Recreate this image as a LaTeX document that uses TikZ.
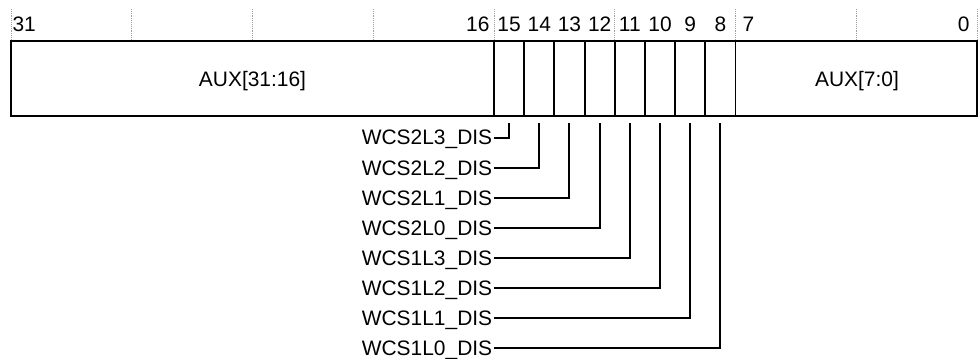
\documentclass[tikz,border=0pt]{standalone}
\usepackage{fontspec}
\setmainfont{Liberation Sans}

\tikzset{every picture/.style={line width=0.75pt}}
\tikzset{
  bitnum/.style={anchor=base,inner sep=0pt,font=\fontsize{15.7}{18}\selectfont},
  fieldtxt/.style={inner sep=0pt,text height=11.2pt,text depth=0pt,font=\fontsize{15.7}{18}\selectfont},
  sigtxt/.style={anchor=east,inner xsep=1pt,inner ysep=0pt,text height=11.2pt,text depth=0pt,font=\fontsize{15.7}{18}\selectfont},
  bittick/.style={color={rgb, 255:red, 160; green, 160; blue, 160 },dash pattern=on 0.6pt off 0.8pt,line width=0.7pt},
  wire/.style={line width=1.5pt}
}

\begin{document}
\begin{tikzpicture}[x=0.75pt,y=0.75pt,yscale=-1,xscale=1]
\path (0,0) rectangle (980,358); %set diagram size

%Dotted ticks every 4 bits
\draw [bittick] (11,9) -- (11,40) ;
\draw [bittick] (131.75,9) -- (131.75,40) ;
\draw [bittick] (252.5,9) -- (252.5,40) ;
\draw [bittick] (373.25,9) -- (373.25,40) ;
\draw [bittick] (494,9) -- (494,40) ;
\draw [bittick] (614.75,9) -- (614.75,40) ;
\draw [bittick] (735.5,9) -- (735.5,40) ;
\draw [bittick] (856.25,9) -- (856.25,40) ;
\draw [bittick] (977,9) -- (977,40) ;

%Shape: Rectangle (register)
\draw [line width=1.8pt] (11,41) rectangle (977,116) ;
%Straight Lines (bit fields)
\draw [line width=1.4pt] (494,41) -- (494,116) ;
\draw [line width=1.4pt] (524.19,41) -- (524.19,116) ;
\draw [line width=1.4pt] (554.38,41) -- (554.38,116) ;
\draw [line width=1.4pt] (584.56,41) -- (584.56,116) ;
\draw [line width=1.4pt] (614.75,41) -- (614.75,116) ;
\draw [line width=1.4pt] (644.94,41) -- (644.94,116) ;
\draw [line width=1.4pt] (675.13,41) -- (675.13,116) ;
\draw [line width=1.4pt] (705.31,41) -- (705.31,116) ;
\draw [line width=1.4pt] (735.5,41) -- (735.5,116) ;

% Bit numbers
\node [bitnum,anchor=base west] (n31) at (12,31) {31};
\node [bitnum,anchor=base east] (n16) at (490,31) {16};
\node [bitnum] (n15) at (509.1,31) {15};
\node [bitnum] (n14) at (539.28,31) {14};
\node [bitnum] (n13) at (569.47,31) {13};
\node [bitnum] (n12) at (599.66,31) {12};
\node [bitnum] (n11) at (629.84,31) {11};
\node [bitnum] (n10) at (660.03,31) {10};
\node [bitnum] (n9) at (690.22,31) {9};
\node [bitnum] (n8) at (720.41,31) {8};
\node [bitnum,anchor=base west] (n7) at (742,31) {7};
\node [bitnum,anchor=base east] (n0) at (970,31) {0};

% Field names
\node [fieldtxt] (auxhi) at (252.5,79.5) {AUX[31:16]};
\node [fieldtxt] (auxlo) at (857,79.5) {AUX[7:0]};

% Connector starts below the bits
\coordinate (b15) at (509.1,123) ;
\coordinate (b14) at (539.28,123) ;
\coordinate (b13) at (569.47,123) ;
\coordinate (b12) at (599.66,123) ;
\coordinate (b11) at (629.84,123) ;
\coordinate (b10) at (660.03,123) ;
\coordinate (b9) at (690.22,123) ;
\coordinate (b8) at (720.41,123) ;

% Signal names
\node [sigtxt] (s15) at (494,137.5) {WCS2L3\_DIS};
\node [sigtxt] (s14) at (494,167.6) {WCS2L2\_DIS};
\node [sigtxt] (s13) at (494,197.7) {WCS2L1\_DIS};
\node [sigtxt] (s12) at (494,227.8) {WCS2L0\_DIS};
\node [sigtxt] (s11) at (494,257.9) {WCS1L3\_DIS};
\node [sigtxt] (s10) at (494,288) {WCS1L2\_DIS};
\node [sigtxt] (s9) at (494,318.1) {WCS1L1\_DIS};
\node [sigtxt] (s8) at (494,348.2) {WCS1L0\_DIS};

% Connectors
\draw [wire] (b15) |- (s15.east) ;
\draw [wire] (b14) |- (s14.east) ;
\draw [wire] (b13) |- (s13.east) ;
\draw [wire] (b12) |- (s12.east) ;
\draw [wire] (b11) |- (s11.east) ;
\draw [wire] (b10) |- (s10.east) ;
\draw [wire] (b9) |- (s9.east) ;
\draw [wire] (b8) |- (s8.east) ;

\end{tikzpicture}
\end{document}
